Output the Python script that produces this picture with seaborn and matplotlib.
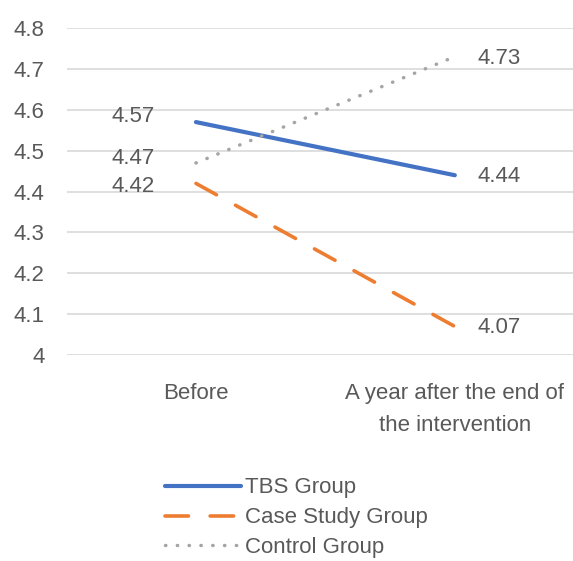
import seaborn as sns
import matplotlib.pyplot as plt
import pandas as pd

periods = ['Before', 'A year after the end of\nthe intervention']
groups = ['TBS Group', 'Case Study Group', 'Control Group']
tbs = [4.57, 4.44]
case_study = [4.42, 4.07]
control = [4.47, 4.73]

df = pd.DataFrame({
    'period': periods * 3,
    'x': [0, 1] * 3,
    'group': [g for g in groups for _ in periods],
    'score': tbs + case_study + control,
})

sns.set_style('white')
plt.rcParams['font.family'] = ['Liberation Sans', 'DejaVu Sans']
txt = '#595959'
fs = 16
palette = {'TBS Group': '#4472C4', 'Case Study Group': '#ED7D31', 'Control Group': '#A5A5A5'}
dashes = {'TBS Group': None, 'Case Study Group': (6.5, 6.0), 'Control Group': (0.1, 3.3)}
widths = {'TBS Group': 3.0, 'Case Study Group': 2.6, 'Control Group': 2.5}

fig = plt.figure(figsize=(5.73, 5.61), dpi=100)
ax = fig.add_axes([0.117, 0.367, 0.895, 0.583])

for g in groups:
    sub = df[df.group == g]
    sns.lineplot(data=sub, x='x', y='score', ax=ax, color=palette[g], label=g,
                 linewidth=widths[g], solid_capstyle='round', dash_capstyle='round')
    if dashes[g]:
        ax.lines[-1].set_dashes(dashes[g])

# data labels (small vertical nudges like the original's label placement)
nudge_before = {'TBS Group': 4, 'Case Study Group': -2, 'Control Group': 3}
for g, vals in zip(groups, [tbs, case_study, control]):
    ax.annotate(f'{vals[0]:.2f}', (0, vals[0]), xytext=(-30, nudge_before[g]),
                textcoords='offset points', ha='right', va='center', fontsize=fs, color=txt)
    ax.annotate(f'{vals[1]:.2f}', (1, vals[1]), xytext=(16, -1),
                textcoords='offset points', ha='left', va='center', fontsize=fs, color=txt)

ax.set_xlim(-0.498, 1.483)
ax.set_ylim(4.0, 4.8)
ax.set_yticks([4.0, 4.1, 4.2, 4.3, 4.4, 4.5, 4.6, 4.7, 4.8])
ax.set_yticklabels(['4', '4.1', '4.2', '4.3', '4.4', '4.5', '4.6', '4.7', '4.8'])
ax.set_xticks([0, 1])
ax.set_xticklabels(periods, linespacing=1.7)
ax.tick_params(axis='both', length=0, labelsize=fs, labelcolor=txt)
ax.tick_params(axis='x', pad=20)
ax.tick_params(axis='y', pad=16)
ax.grid(axis='y', color='#D9D9D9', linewidth=1.2)
ax.set_xlabel('')
ax.set_ylabel('')
for s in ax.spines.values():
    s.set_visible(False)

ax.get_legend().remove()
h, l = ax.get_legend_handles_labels()
fig.legend(h, l, loc='upper left', bbox_to_anchor=(0.288, 0.149), frameon=False,
           fontsize=fs, labelcolor=txt, handlelength=3.4, handletextpad=0.2,
           labelspacing=0.4, borderaxespad=0, borderpad=0)

fig.savefig('out.png', dpi=100)
